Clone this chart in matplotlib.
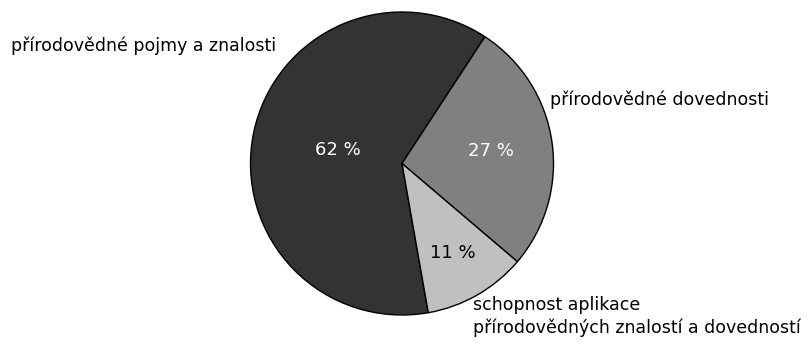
import numpy as np
import matplotlib.pyplot as plt

plt.rcParams['font.family'] = ['DejaVu Sans']

# Podíly oblastí
categories = ['přírodovědné pojmy a znalosti',
              'přírodovědné dovednosti',
              'schopnost aplikace\npřírodovědných znalostí a dovedností']
values = [62, 27, 11]
pct_labels = ['62 %', '27 %', '11 %']

colors = ['#333333', '#808080', '#c0c0c0']
pct_colors = ['white', 'white', 'black']
pct_dist = [0.43, 0.59, 0.68]

fig = plt.figure(figsize=(8.12, 3.51), dpi=100)
ax = fig.add_axes([249 / 812, 36 / 351, 306 / 812, 303 / 351])

wedges, _ = ax.pie(values, colors=colors, startangle=-80, counterclock=False,
                   wedgeprops=dict(edgecolor='black', linewidth=1.0))
ax.set_xlim(-1, 1)
ax.set_ylim(-1, 1)
ax.axis('off')

# Procenta uvnitř výsečí
for w, txt, c, d in zip(wedges, pct_labels, pct_colors, pct_dist):
    ang = np.deg2rad((w.theta1 + w.theta2) / 2)
    ax.text(d * np.cos(ang), d * np.sin(ang), txt, color=c,
            fontsize=13, ha='center', va='center')

# Popisky výsečí
ax.text(-2.58, 0.78, categories[0], fontsize=12.5, ha='left', va='center')
ax.text(0.98, 0.42, categories[1], fontsize=12.5, ha='left', va='center')
ax.text(0.47, -1.01, categories[2], fontsize=12.5, ha='left', va='center',
        linespacing=1.3)

fig.savefig('out.png', dpi=100)
